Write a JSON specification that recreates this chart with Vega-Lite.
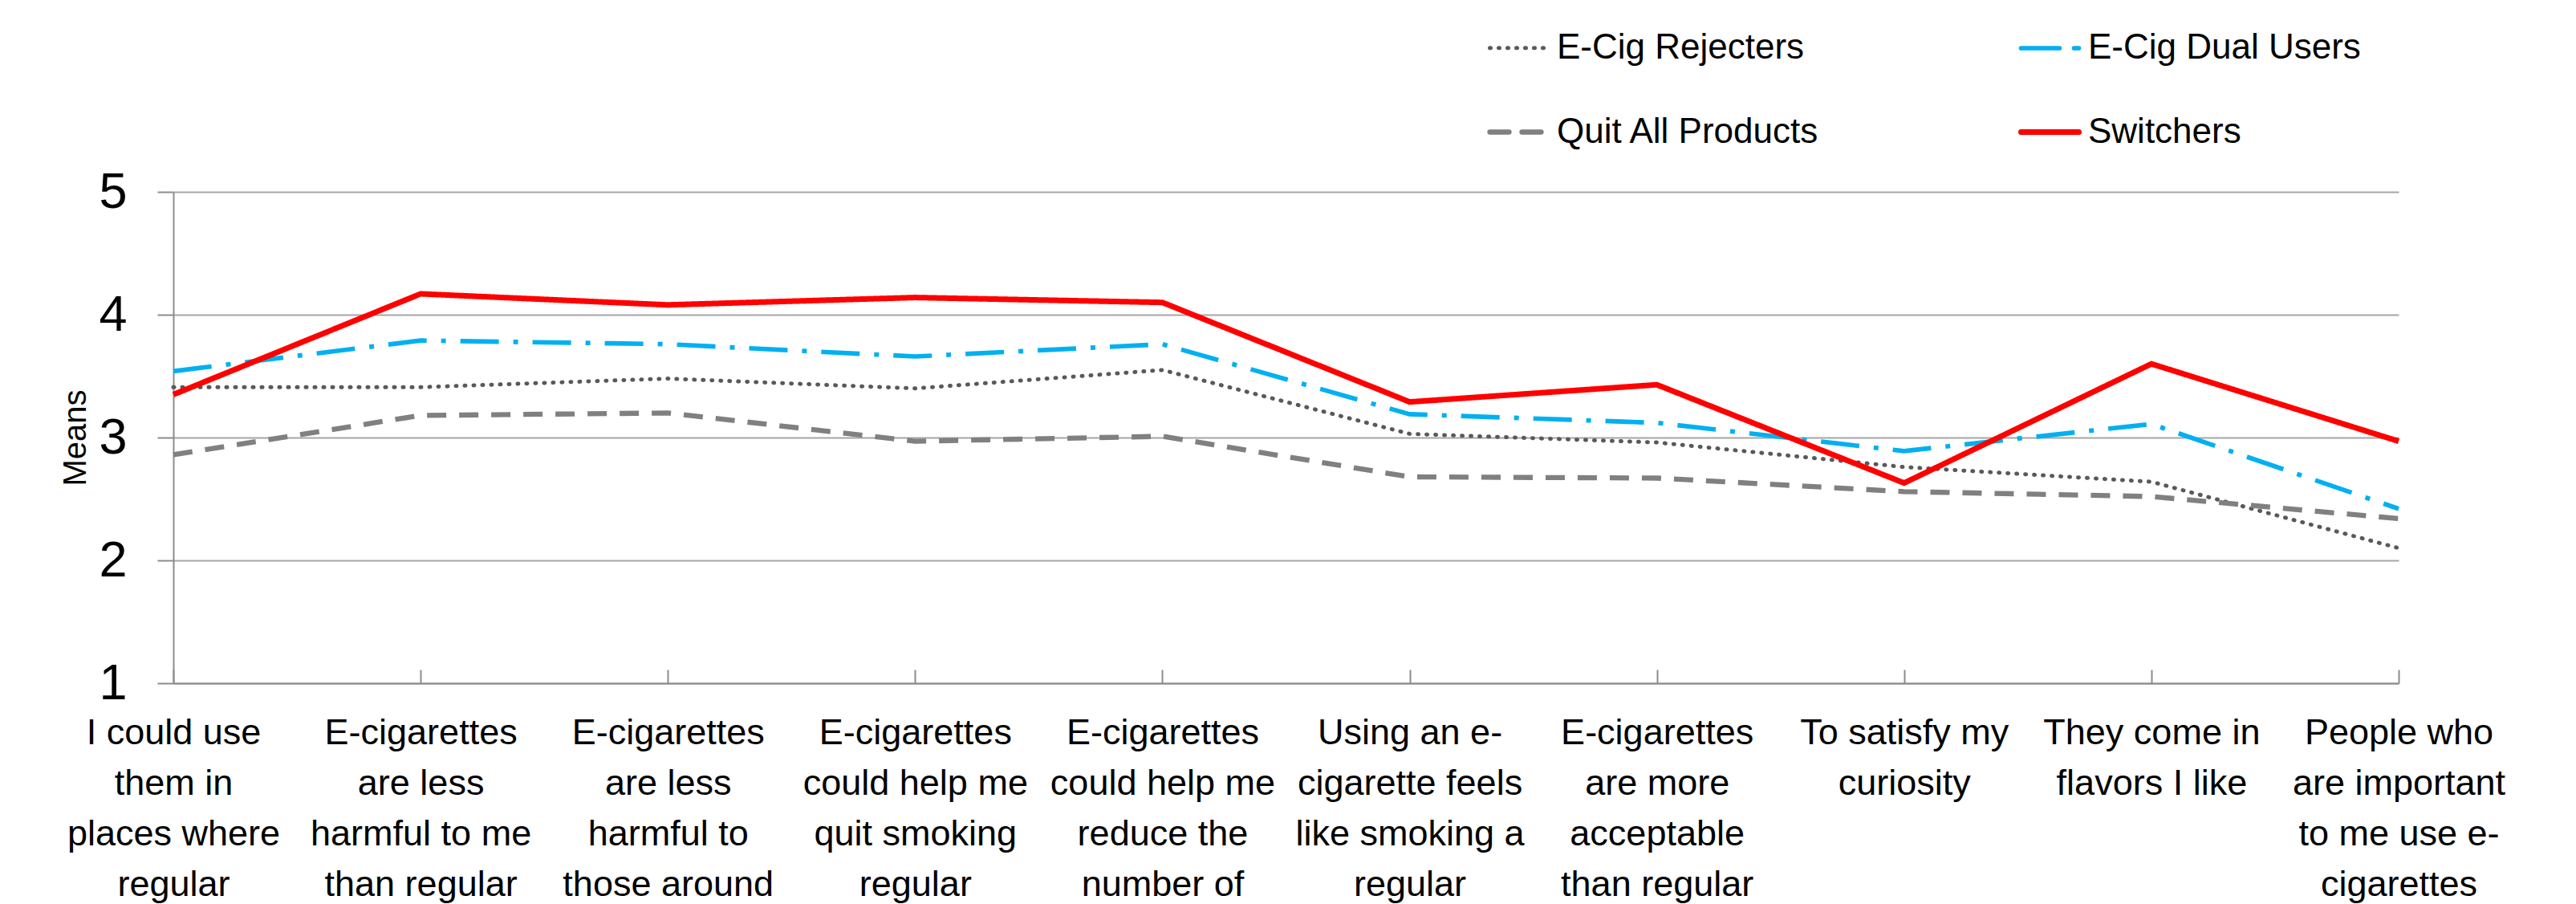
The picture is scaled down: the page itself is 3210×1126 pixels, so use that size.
{
  "$schema": "https://vega.github.io/schema/vega-lite/v6.json",
  "autosize": {"type": "none"},
  "padding": {"left": 216, "top": 239, "right": 221, "bottom": 275},
  "width": 2773,
  "height": 612,
  "background": "white",
  "config": {
    "view": {"stroke": null},
    "font": "Liberation Sans, Arial, sans-serif",
    "axis": {"labelColor": "black", "titleColor": "black"}
  },
  "data": {
    "values": [
      {"item": "I could use|them in|places where|regular", "series": "E-Cig Rejecters", "value": 3.41},
      {"item": "E-cigarettes|are less|harmful to me|than regular", "series": "E-Cig Rejecters", "value": 3.41},
      {"item": "E-cigarettes|are less|harmful to|those around", "series": "E-Cig Rejecters", "value": 3.48},
      {"item": "E-cigarettes|could help me|quit smoking|regular", "series": "E-Cig Rejecters", "value": 3.40},
      {"item": "E-cigarettes|could help me|reduce the|number of", "series": "E-Cig Rejecters", "value": 3.55},
      {"item": "Using an e-|cigarette feels|like smoking a|regular", "series": "E-Cig Rejecters", "value": 3.03},
      {"item": "E-cigarettes|are more|acceptable|than regular", "series": "E-Cig Rejecters", "value": 2.96},
      {"item": "To satisfy my|curiosity", "series": "E-Cig Rejecters", "value": 2.76},
      {"item": "They come in|flavors I like", "series": "E-Cig Rejecters", "value": 2.64},
      {"item": "People who|are important|to me use e-|cigarettes", "series": "E-Cig Rejecters", "value": 2.10},

      {"item": "I could use|them in|places where|regular", "series": "Quit All Products", "value": 2.86},
      {"item": "E-cigarettes|are less|harmful to me|than regular", "series": "Quit All Products", "value": 3.18},
      {"item": "E-cigarettes|are less|harmful to|those around", "series": "Quit All Products", "value": 3.20},
      {"item": "E-cigarettes|could help me|quit smoking|regular", "series": "Quit All Products", "value": 2.97},
      {"item": "E-cigarettes|could help me|reduce the|number of", "series": "Quit All Products", "value": 3.01},
      {"item": "Using an e-|cigarette feels|like smoking a|regular", "series": "Quit All Products", "value": 2.68},
      {"item": "E-cigarettes|are more|acceptable|than regular", "series": "Quit All Products", "value": 2.67},
      {"item": "To satisfy my|curiosity", "series": "Quit All Products", "value": 2.56},
      {"item": "They come in|flavors I like", "series": "Quit All Products", "value": 2.52},
      {"item": "People who|are important|to me use e-|cigarettes", "series": "Quit All Products", "value": 2.34},

      {"item": "I could use|them in|places where|regular", "series": "E-Cig Dual Users", "value": 3.54},
      {"item": "E-cigarettes|are less|harmful to me|than regular", "series": "E-Cig Dual Users", "value": 3.79},
      {"item": "E-cigarettes|are less|harmful to|those around", "series": "E-Cig Dual Users", "value": 3.76},
      {"item": "E-cigarettes|could help me|quit smoking|regular", "series": "E-Cig Dual Users", "value": 3.66},
      {"item": "E-cigarettes|could help me|reduce the|number of", "series": "E-Cig Dual Users", "value": 3.76},
      {"item": "Using an e-|cigarette feels|like smoking a|regular", "series": "E-Cig Dual Users", "value": 3.19},
      {"item": "E-cigarettes|are more|acceptable|than regular", "series": "E-Cig Dual Users", "value": 3.12},
      {"item": "To satisfy my|curiosity", "series": "E-Cig Dual Users", "value": 2.89},
      {"item": "They come in|flavors I like", "series": "E-Cig Dual Users", "value": 3.11},
      {"item": "People who|are important|to me use e-|cigarettes", "series": "E-Cig Dual Users", "value": 2.42},

      {"item": "I could use|them in|places where|regular", "series": "Switchers", "value": 3.35},
      {"item": "E-cigarettes|are less|harmful to me|than regular", "series": "Switchers", "value": 4.17},
      {"item": "E-cigarettes|are less|harmful to|those around", "series": "Switchers", "value": 4.08},
      {"item": "E-cigarettes|could help me|quit smoking|regular", "series": "Switchers", "value": 4.14},
      {"item": "E-cigarettes|could help me|reduce the|number of", "series": "Switchers", "value": 4.10},
      {"item": "Using an e-|cigarette feels|like smoking a|regular", "series": "Switchers", "value": 3.29},
      {"item": "E-cigarettes|are more|acceptable|than regular", "series": "Switchers", "value": 3.43},
      {"item": "To satisfy my|curiosity", "series": "Switchers", "value": 2.63},
      {"item": "They come in|flavors I like", "series": "Switchers", "value": 3.60},
      {"item": "People who|are important|to me use e-|cigarettes", "series": "Switchers", "value": 2.97}
    ]
  },
  "encoding": {
    "x": {
      "field": "item",
      "type": "nominal",
      "sort": null,
      "scale": {"type": "point", "padding": 0},
      "axis": {
        "title": null,
        "labelAngle": 0,
        "labelExpr": "split(datum.label, '|')",
        "labelFontSize": 45,
        "labelLineHeight": 63,
        "labelLimit": 0,
        "labelOverlap": false,
        "labelPadding": 56,
        "labelBaseline": "top",
        "domainColor": "#8C8C8C",
        "domainWidth": 2,
        "tickColor": "#8C8C8C",
        "tickWidth": 2,
        "tickSize": -17,
        "grid": false
      }
    },
    "y": {
      "field": "value",
      "type": "quantitative",
      "scale": {"domain": [1, 5], "nice": false, "zero": false},
      "axis": {
        "title": "Means",
        "titleFontSize": 40,
        "titleFontWeight": "normal",
        "titlePadding": 8,
        "values": [1, 2, 3, 4, 5],
        "labelFontSize": 63,
        "labelPadding": 38,
        "tickSize": 20,
        "tickColor": "#8C8C8C",
        "tickWidth": 2,
        "domainColor": "#8C8C8C",
        "domainWidth": 2,
        "grid": true,
        "gridColor": "#A6A6A6",
        "gridWidth": 2
      }
    },
    "color": {
      "field": "series",
      "type": "nominal",
      "scale": {
        "domain": ["E-Cig Rejecters", "E-Cig Dual Users", "Quit All Products", "Switchers"],
        "range": ["#595959", "#00B0F0", "#808080", "#FF0000"]
      },
      "legend": {
        "title": null,
        "orient": "none",
        "legendX": 1637,
        "legendY": -218,
        "columns": 2,
        "direction": "horizontal",
        "symbolType": "stroke",
        "symbolSize": 5184,
        "symbolStrokeWidth": 6,
        "labelFontSize": 44,
        "labelColor": "black",
        "labelOffset": 8,
        "columnPadding": 236,
        "rowPadding": 43,
        "labelLimit": 0,
        "padding": 0,
        "encode": {"symbols": {"update": {"strokeCap": {"value": "round"}}}}
      }
    },
    "strokeDash": {
      "field": "series",
      "type": "nominal",
      "scale": {
        "domain": ["E-Cig Rejecters", "E-Cig Dual Users", "Quit All Products", "Switchers"],
        "range": [[1, 10], [48, 18, 6, 18], [24, 16], [1, 0]]
      },
      "legend": {
        "title": null,
        "orient": "none",
        "legendX": 1637,
        "legendY": -218,
        "columns": 2,
        "direction": "horizontal",
        "symbolType": "stroke",
        "symbolSize": 5184,
        "symbolStrokeWidth": 6,
        "labelFontSize": 44,
        "labelColor": "black",
        "labelOffset": 8,
        "columnPadding": 236,
        "rowPadding": 43,
        "labelLimit": 0,
        "padding": 0,
        "encode": {"symbols": {"update": {"strokeCap": {"value": "round"}}}}
      }
    },
    "strokeWidth": {
      "field": "series",
      "type": "nominal",
      "scale": {
        "domain": ["E-Cig Rejecters", "E-Cig Dual Users", "Quit All Products", "Switchers"],
        "range": [5, 7, 6.5, 7]
      },
      "legend": null
    }
  },
  "layer": [
    {
      "transform": [{"filter": "datum.series === 'E-Cig Rejecters'"}],
      "mark": {"type": "line", "strokeCap": "round", "strokeJoin": "round"}
    },
    {
      "transform": [{"filter": "datum.series !== 'E-Cig Rejecters'"}],
      "mark": {"type": "line", "strokeCap": "butt", "strokeJoin": "miter"}
    }
  ]
}
